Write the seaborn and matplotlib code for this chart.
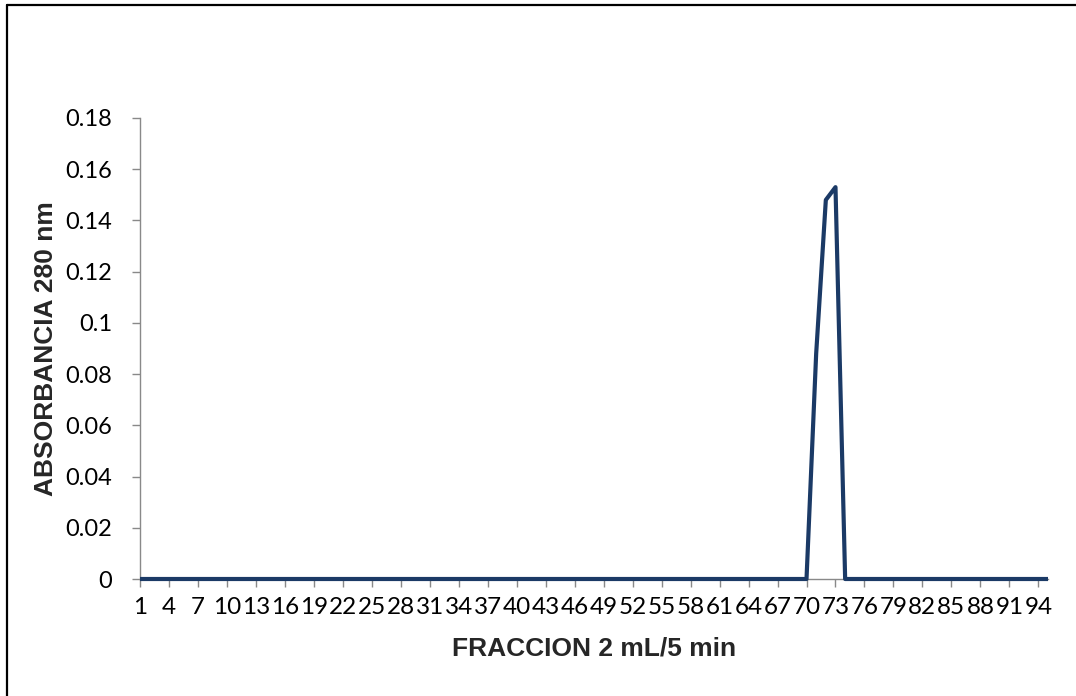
import matplotlib
matplotlib.use("Agg")
import matplotlib.pyplot as plt
from matplotlib.lines import Line2D
import numpy as np
import pandas as pd
import seaborn as sns

# Fractions collected (2 mL every 5 min) and absorbance read at 280 nm
fracciones = list(range(1, 96))
absorbancia = [0.0] * 95
pico_fracciones = [71, 72, 73]
pico_valores = [0.088, 0.148, 0.153]
for f, v in zip(pico_fracciones, pico_valores):
    absorbancia[f - 1] = v

y_ticks = [0, 0.02, 0.04, 0.06, 0.08, 0.1, 0.12, 0.14, 0.16, 0.18]
y_tick_labels = ["0", "0.02", "0.04", "0.06", "0.08", "0.1", "0.12", "0.14", "0.16", "0.18"]
x_ticks = list(range(1, 96, 3))

df = pd.DataFrame({"fraccion": fracciones, "absorbancia": absorbancia})

sns.set_style("white")
plt.rcParams["font.family"] = ["Lato", "DejaVu Sans"]

W, H = 1076, 696
fig = plt.figure(figsize=(W / 100, H / 100), dpi=100)
ax = fig.add_axes([140 / W, 1 - 579 / H, 908 / W, 461 / H])

sns.lineplot(data=df, x="fraccion", y="absorbancia", ax=ax, color="#1B3A66",
             linewidth=3.0, solid_joinstyle="round", solid_capstyle="butt",
             clip_on=False, zorder=5)

ax.set_xlim(1, 95)
ax.set_ylim(0, 0.18)
ax.set_yticks(y_ticks)
ax.set_yticklabels(y_tick_labels)
ax.set_xticks(x_ticks)
ax.set_xticklabels([str(t) for t in x_ticks])

grey = "#898989"
for side in ["top", "right"]:
    ax.spines[side].set_visible(False)
for side in ["left", "bottom"]:
    ax.spines[side].set_color(grey)
    ax.spines[side].set_linewidth(1.0)
    ax.spines[side].set_zorder(1)

ax.tick_params(axis="y", direction="out", length=6, width=1, color=grey,
               labelsize=17, pad=14, labelcolor="black", left=True)
ax.tick_params(axis="x", direction="out", length=6, width=1, color=grey,
               labelsize=17.5, pad=7, labelcolor="black", bottom=True)

ax.set_xlabel("FRACCION 2 mL/5 min", fontsize=19, fontweight="bold",
              family="Liberation Sans")
ax.set_ylabel("ABSORBANCIA 280 nm", fontsize=19, fontweight="bold",
              family="Liberation Sans")
ax.xaxis.set_label_coords(0.5, -0.125)
ax.yaxis.set_label_coords(-0.09, 0.5)

# Frame of the chart area (top and left edges)
fig.add_artist(Line2D([7 / W, 7 / W], [0, 1 - 5 / H], transform=fig.transFigure,
                      color="black", linewidth=1.6))
fig.add_artist(Line2D([7 / W, 1], [1 - 5 / H, 1 - 5 / H], transform=fig.transFigure,
                      color="black", linewidth=1.6))

fig.savefig("out.png", dpi=100, facecolor="white")
